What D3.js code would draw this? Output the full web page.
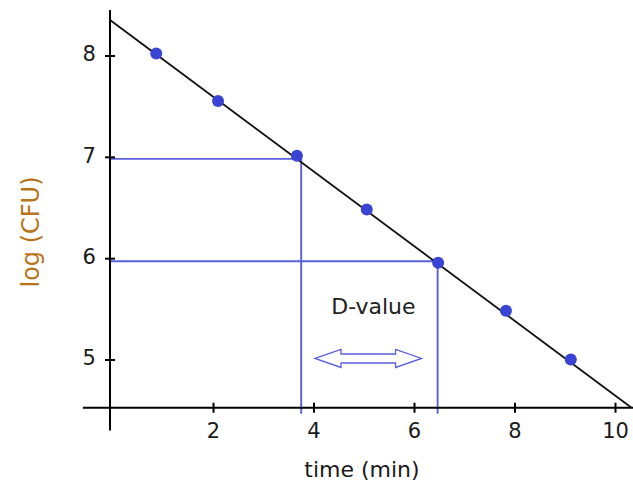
<!DOCTYPE html>
<html>
<head>
<meta charset="utf-8">
<script src="https://cdn.jsdelivr.net/npm/d3@7"></script>
<style>
  html, body { margin: 0; padding: 0; background: #fff; }
  svg { display: block; }
  text { font-family: "DejaVu Sans", Verdana, sans-serif; }
</style>
</head>
<body>
<svg id="chart" width="633" height="490"></svg>
<script>
// Survival curve: log(CFU) against time, with the D-value read between log 7 and log 6
const timeMin   = [0.87, 2.1, 3.67, 5.06, 6.48, 7.83, 9.12];
const logCFU    = [8.02, 7.55, 7.01, 6.48, 5.955, 5.48, 5.0];
const xTicks    = [2, 4, 6, 8, 10];
const yTicks    = [5, 6, 7, 8];
const fitLine   = [[-0.05, 8.35], [10.33, 4.524]];   // fitted straight line (time, log CFU)
const levels    = [6.98, 5.97];                      // log levels used for the D-value
const levelTime = [3.755, 6.47];                     // times where the line crosses those levels
const dArrow    = [4.03, 6.15, 5.01];                // arrow from, to, height
const dLabel    = "D-value";
const xTitle    = "time (min)";
const yTitle    = "log (CFU)";

const svg = d3.select("#chart");

const x = d3.scaleLinear().domain([0, 10]).range([112.5, 615]);
const y = d3.scaleLinear().domain([5, 8]).range([359.5, 55.5]);

const xAxisY = 4.524;            // where the time axis crosses
const yAxisX = -0.05;            // where the log axis crosses
const xExtent = [-0.59, 10.36];
const yExtent = [4.30, 8.45];

const blue = "#3a44d4";
const guideBlue = "#5a60dc";

// guide lines (drawn under the axes and points)
const g = svg.append("g");
levels.forEach((lv, i) => {
  g.append("line")
    .attr("x1", x(yAxisX)).attr("x2", x(levelTime[i]))
    .attr("y1", y(lv)).attr("y2", y(lv))
    .attr("stroke", guideBlue).attr("stroke-width", 1.9);
  g.append("line")
    .attr("x1", x(levelTime[i])).attr("x2", x(levelTime[i]))
    .attr("y1", y(lv)).attr("y2", y(xAxisY) + 6)
    .attr("stroke", guideBlue).attr("stroke-width", 1.9);
});

// x axis
const xAxis = svg.append("g")
  .attr("transform", `translate(0,${y(xAxisY)})`)
  .call(d3.axisBottom(x).tickValues(xTicks).tickSize(5).tickPadding(10).tickFormat(d3.format("d")));
xAxis.select(".domain").remove();
xAxis.append("line")
  .attr("x1", x(xExtent[0])).attr("x2", x(xExtent[1]))
  .attr("stroke", "#000").attr("stroke-width", 2);
xAxis.selectAll(".tick line").attr("y1", -5).attr("y2", 5).attr("stroke", "#000").attr("stroke-width", 2);
xAxis.selectAll(".tick text")
  .attr("font-size", 21).attr("fill", "#1a1a1a")
  .attr("font-family", "DejaVu Sans, sans-serif");

// y axis
const yAxis = svg.append("g")
  .attr("transform", `translate(${x(yAxisX)},0)`)
  .call(d3.axisLeft(y).tickValues(yTicks).tickSize(5).tickPadding(9).tickFormat(d3.format("d")));
yAxis.select(".domain").remove();
yAxis.append("line")
  .attr("y1", y(yExtent[0])).attr("y2", y(yExtent[1]))
  .attr("stroke", "#000").attr("stroke-width", 2);
yAxis.selectAll(".tick line").attr("x1", -5).attr("x2", 5).attr("stroke", "#000").attr("stroke-width", 2);
yAxis.selectAll(".tick text")
  .attr("font-size", 21).attr("fill", "#1a1a1a").attr("dy", "0.25em")
  .attr("font-family", "DejaVu Sans, sans-serif");

// fitted line
svg.append("path")
  .datum(fitLine)
  .attr("d", d3.line().x(d => x(d[0])).y(d => y(d[1])))
  .attr("fill", "none").attr("stroke", "#111").attr("stroke-width", 1.8);

// data points
svg.append("g").selectAll("circle")
  .data(timeMin.map((t, i) => [t, logCFU[i]]))
  .join("circle")
  .attr("cx", d => x(d[0])).attr("cy", d => y(d[1]))
  .attr("r", 6).attr("fill", blue);

// D-value label and double arrow
svg.append("text")
  .attr("x", (x(levelTime[0]) + x(levelTime[1])) / 2 + 4)
  .attr("y", 314)
  .attr("text-anchor", "middle")
  .attr("font-size", 22).attr("fill", "#222")
  .text(dLabel);

const ax0 = x(dArrow[0]), ax1 = x(dArrow[1]), ay = y(dArrow[2]);
const head = 26, hw = 9, sw = 4.5;
const arrowPts = [
  [ax0, ay], [ax0 + head, ay - hw], [ax0 + head, ay - sw], [ax1 - head, ay - sw],
  [ax1 - head, ay - hw], [ax1, ay], [ax1 - head, ay + hw], [ax1 - head, ay + sw],
  [ax0 + head, ay + sw], [ax0 + head, ay + hw]
];
svg.append("path")
  .attr("d", d3.line()(arrowPts) + "Z")
  .attr("fill", "#fff").attr("stroke", guideBlue).attr("stroke-width", 1.3);

// axis titles
svg.append("text")
  .attr("x", (x(xExtent[0]) + x(xExtent[1])) / 2 + 4)
  .attr("y", 477)
  .attr("text-anchor", "middle")
  .attr("font-size", 22).attr("fill", "#1a1a1a")
  .text(xTitle);

svg.append("text")
  .attr("transform", "translate(39,232) rotate(-90)")
  .attr("text-anchor", "middle")
  .attr("font-size", 24).attr("fill", "#b8741a")
  .text(yTitle);
</script>
</body>
</html>
